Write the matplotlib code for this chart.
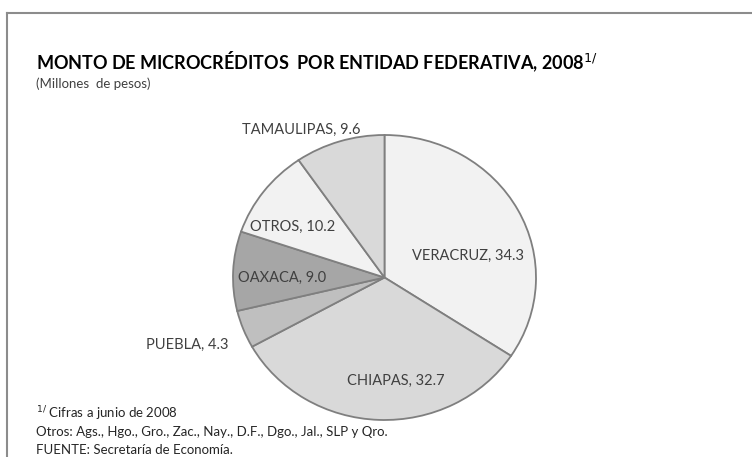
import matplotlib.pyplot as plt
from matplotlib.lines import Line2D

# data
estados = ['VERACRUZ', 'CHIAPAS', 'PUEBLA', 'OAXACA', 'OTROS', 'TAMAULIPAS']
montos = [34.3, 32.7, 4.3, 9.0, 10.2, 9.6]
colores = ['#f2f2f2', '#d9d9d9', '#bfbfbf', '#a6a6a6', '#f2f2f2', '#d9d9d9']

# label positions in pie units (radius = 1)
pos_etiquetas = [(0.55, 0.15), (0.076, -0.726), (-1.30, -0.474),
                 (-0.677, 0.0), (-0.604, 0.354), (-0.55, 1.035)]

plt.rcParams['font.family'] = ['Lato', 'DejaVu Sans']

W, H = 752, 457
fig = plt.figure(figsize=(W / 100, H / 100), dpi=100)

# frame (cut off at right and bottom)
fig.add_artist(Line2D([7 / W, 1], [1 - 13 / H, 1 - 13 / H], color='#8c8c8c', lw=1.5))
fig.add_artist(Line2D([7 / W, 7 / W], [0, 1 - 13 / H], color='#8c8c8c', lw=1.5))

# pie (source image is slightly squashed vertically)
cx, cy, rx, ry = 384.5, 277.5, 151.5, 142.5
ax = fig.add_axes([(cx - rx) / W, (H - cy - ry) / H, 2 * rx / W, 2 * ry / H])
ax.pie(montos, colors=colores, startangle=90, counterclock=False, radius=1,
       wedgeprops=dict(edgecolor='#7f7f7f', linewidth=1.3))
ax.set_xlim(-1, 1)
ax.set_ylim(-1, 1)
ax.set_aspect('auto')
ax.axis('off')

for nombre, valor, (x, y) in zip(estados, montos, pos_etiquetas):
    ax.text(x, y, f'{nombre}, {valor:.1f}', ha='center', va='center',
            fontsize=10.5, color='#404040', clip_on=False)

# titles
fig.text(36 / W, 1 - 62 / H, 'MONTO DE MICROCRÉDITOS  POR ENTIDAD FEDERATIVA, 2008$^{1/}$',
         fontsize=13, fontweight='bold', va='center', ha='left')
fig.text(36 / W, 1 - 84 / H, '(Millones  de pesos)', fontsize=9.5, va='center', ha='left',
         color='#404040')

# footnotes
fig.text(36 / W, 1 - 414 / H, '$^{1/}$ Cifras a junio de 2008', fontsize=9.5, va='center',
         color='#262626')
fig.text(36 / W, 1 - 432 / H, 'Otros: Ags., Hgo., Gro., Zac., Nay., D.F., Dgo., Jal., SLP y Qro.',
         fontsize=9.5, va='center', color='#262626')
fig.text(36 / W, 1 - 450 / H, 'FUENTE: Secretaría de Economía.', fontsize=9.5, va='center',
         color='#262626')

fig.savefig('out.png', dpi=100)
